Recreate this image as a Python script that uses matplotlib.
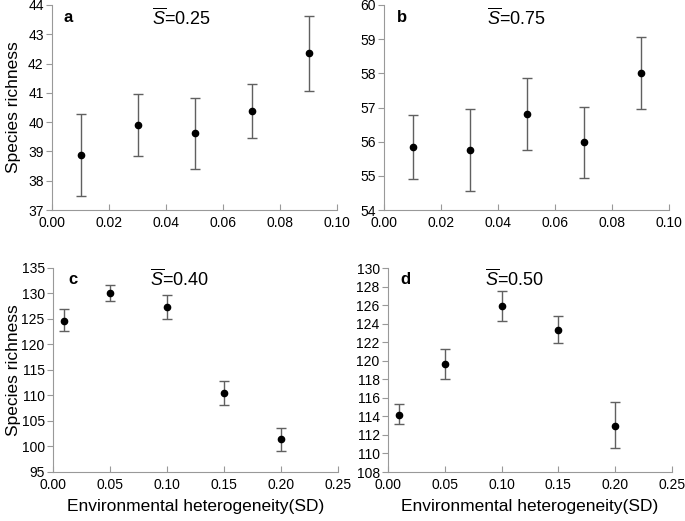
import numpy as np
import matplotlib
matplotlib.use("Agg")
import matplotlib.pyplot as plt

plt.rcParams['font.family'] = ['Liberation Sans', 'DejaVu Sans']
plt.rcParams['mathtext.fontset'] = 'custom'
plt.rcParams['mathtext.rm'] = 'Liberation Sans'
plt.rcParams['mathtext.it'] = 'Liberation Sans:italic'

# panel a / b: SD 0.01..0.09
x_ab = [0.01, 0.03, 0.05, 0.07, 0.09]
a_mean = [38.87, 39.90, 39.62, 40.37, 42.35]
a_lo = [37.47, 38.83, 38.40, 39.45, 41.05]
a_hi = [40.27, 40.95, 40.82, 41.30, 43.63]
b_mean = [55.83, 55.75, 56.80, 55.98, 58.02]
b_lo = [54.90, 54.57, 55.75, 54.95, 56.97]
b_hi = [56.77, 56.95, 57.85, 57.02, 59.05]
# panel c / d: SD 0.01..0.20
x_cd = [0.01, 0.05, 0.10, 0.15, 0.20]
c_mean = [124.7, 130.1, 127.4, 110.5, 101.4]
c_lo = [122.6, 128.5, 125.0, 108.2, 99.1]
c_hi = [126.9, 131.6, 129.8, 112.8, 103.6]
d_mean = [114.2, 119.65, 125.95, 123.35, 113.0]
d_lo = [113.2, 118.0, 124.3, 121.9, 110.6]
d_hi = [115.3, 121.3, 127.5, 124.8, 115.5]

panels = [
    ("a", "0.25", x_ab, a_mean, a_lo, a_hi, (0, 0.10), np.arange(0, 0.101, 0.02), (37, 44), np.arange(37, 44.1, 1)),
    ("b", "0.75", x_ab, b_mean, b_lo, b_hi, (0, 0.10), np.arange(0, 0.101, 0.02), (54, 60), np.arange(54, 60.1, 1)),
    ("c", "0.40", x_cd, c_mean, c_lo, c_hi, (0, 0.25), np.arange(0, 0.251, 0.05), (95, 135), np.arange(95, 135.1, 5)),
    ("d", "0.50", x_cd, d_mean, d_lo, d_hi, (0, 0.25), np.arange(0, 0.251, 0.05), (108, 130), np.arange(108, 130.1, 2)),
]
# axes rects in pixels (left, top, right, bottom) of a 685x521 figure
rects = [(52, 5, 337, 210), (384, 5, 669, 210), (53, 268, 338, 472), (388, 268, 672, 472)]
txtpos = [(0.04, 0.35, 0.937), (0.046, 0.36, 0.937), (0.053, 0.34, 0.946), (0.042, 0.34, 0.946)]

W, H = 685, 521
fig = plt.figure(figsize=(6.85, 5.21), dpi=100)
for i, (lab, sbar, x, m, lo, hi, xl, xt, yl, yt) in enumerate(panels):
    l, t, r, b = rects[i]
    ax = fig.add_axes([l / W, 1 - b / H, (r - l) / W, (b - t) / H])
    m = np.array(m); err = [m - np.array(lo), np.array(hi) - m]
    ax.errorbar(x, m, yerr=err, fmt='o', color='black', ms=4.5, ecolor='#606060',
                elinewidth=1, capsize=3.5, capthick=1)
    ax.set_xlim(*xl); ax.set_ylim(*yl)
    ax.set_xticks(xt); ax.set_yticks(yt)
    ax.set_xticklabels([f"{v:.2f}" for v in xt])
    ax.set_yticklabels([f"{v:g}" for v in yt])
    for s in ('top', 'right'):
        ax.spines[s].set_visible(False)
    for s in ('left', 'bottom'):
        ax.spines[s].set_color('#999999')
    ax.tick_params(axis='x', direction='in', length=4, color='#999999', labelsize=10, pad=4)
    ax.tick_params(axis='y', direction='out', length=4, color='#999999', labelsize=10, pad=2)
    lx, sx, ty = txtpos[i]
    ax.text(lx, ty, lab, transform=ax.transAxes, fontsize=12, fontweight='bold', va='center')
    ax.text(sx, ty, r'$\overline{S}$=' + sbar, transform=ax.transAxes, fontsize=13, va='center')
    if i in (0, 2):
        ax.set_ylabel("Species richness", fontsize=12.5)
        ax.yaxis.set_label_coords(-(l - 21) / (r - l), 0.5)
    if i in (2, 3):
        ax.set_xlabel("Environmental heterogeneity(SD)", fontsize=12.5, labelpad=5)

fig.savefig("out.png", dpi=100)
